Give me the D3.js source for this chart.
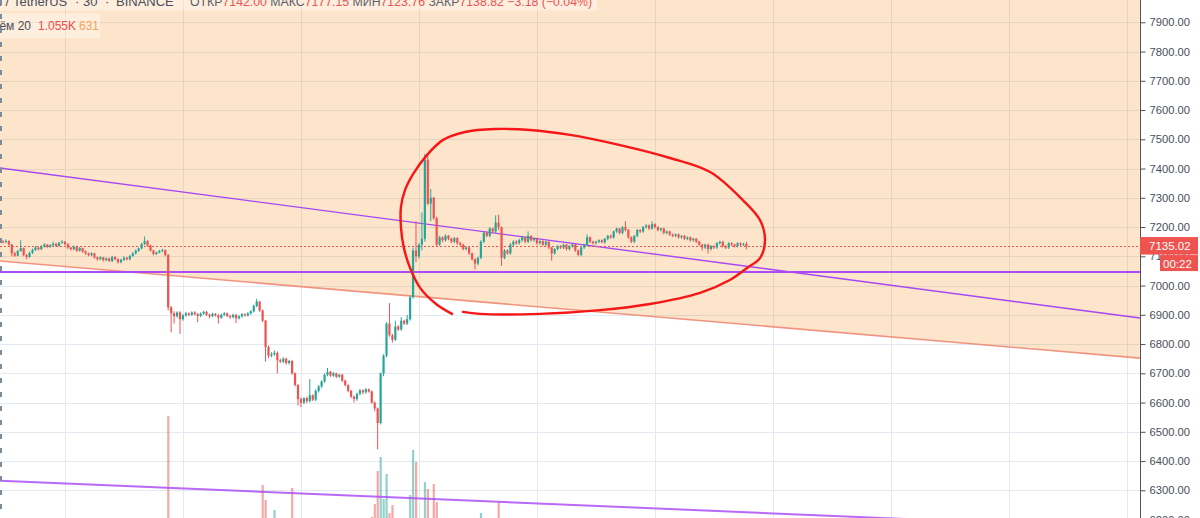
<!DOCTYPE html>
<html><head><meta charset="utf-8">
<script src="https://cdn.jsdelivr.net/npm/d3@7"></script>
<style>html,body{margin:0;padding:0;background:#fff;overflow:hidden}svg{display:block}</style>
</head><body><svg id="c" width="1200" height="518"></svg>
<script>
// ---------- DATA ----------
const opens = [
7150,7148,7152,7140,7110,7102,7118,7128,7104,7098,
7112,7122,7130,7124,7134,7140,7132,7138,7143,7135,
7146,7150,7141,7130,7124,7133,7119,7128,7116,7110,
7104,7110,7096,7090,7097,7087,7093,7084,7098,7090,
7080,7088,7095,7090,7101,7110,7119,7127,7142,7152,
7137,7120,7108,7113,7118,7121,7104,6925,6905,6895,
6908,6885,6898,6905,6900,6908,6902,6896,6904,6910,
6900,6895,6903,6898,6890,6900,6905,6896,6892,6900,
6888,6895,6902,6898,6905,6912,6930,6945,6915,6880,
6790,6760,6765,6770,6745,6740,6750,6735,6742,6700,
6660,6612,6600,6615,6605,6625,6610,6640,6655,6672,
6695,6705,6692,6700,6688,6695,6675,6660,6640,6620,
6612,6630,6642,6635,6645,6638,6600,6580,6530,6700,
6760,6870,6830,6815,6860,6850,6880,6870,6885,6960,
7120,7100,7140,7160,7430,7280,7300,7230,7140,7165,
7155,7170,7160,7150,7162,7145,7140,7125,7130,7110,
7090,7075,7095,7150,7180,7170,7195,7185,7215,7200,
7095,7120,7110,7140,7150,7145,7155,7165,7150,7170,
7155,7160,7145,7152,7140,7150,7130,7110,7125,7135,
7130,7140,7125,7135,7140,7120,7105,7130,7140,7165,
7150,7145,7150,7155,7148,7160,7170,7165,7185,7195,
7180,7200,7190,7165,7150,7170,7190,7185,7200,7205,
7195,7210,7200,7190,7195,7180,7185,7175,7170,7175,
7165,7170,7160,7165,7155,7160,7150,7140,7130,7140,
7125,7135,7130,7145,7150,7135,7130,7145,7140,7135,
7145,7140,7142];
const highs = [
7156,7158,7155,7142,7115,7122,7155,7130,7108,7116,
7126,7135,7133,7138,7145,7142,7142,7150,7146,7150,
7155,7152,7145,7132,7137,7136,7132,7130,7120,7113,
7114,7112,7100,7100,7098,7096,7095,7102,7100,7093,
7092,7100,7098,7105,7114,7123,7130,7146,7168,7155,
7140,7122,7116,7122,7126,7124,7108,6930,6912,6912,
6912,6902,6910,6908,6912,6912,6906,6908,6914,6914,
6904,6907,6906,6902,6904,6909,6908,6900,6904,6903,
6899,6906,6905,6909,6916,6935,6955,6948,6918,6882,
6795,6772,6778,6775,6750,6755,6753,6746,6745,6703,
6663,6618,6618,6620,6680,6628,6645,6660,6676,6700,
6718,6708,6704,6702,6698,6698,6678,6662,6643,6624,
6634,6646,6645,6650,6648,6641,6603,6583,6702,6765,
6875,6940,6835,6880,6865,6892,6883,6900,6965,7130,
7220,7145,7250,7450,7445,7330,7303,7235,7170,7168,
7175,7173,7163,7166,7165,7150,7143,7135,7133,7113,
7093,7098,7155,7185,7185,7200,7198,7240,7242,7202,
7125,7124,7145,7155,7155,7160,7170,7168,7185,7172,
7163,7163,7155,7155,7153,7152,7133,7128,7138,7138,
7143,7142,7138,7143,7142,7123,7133,7143,7175,7168,
7153,7153,7158,7158,7163,7173,7174,7188,7198,7197,
7203,7220,7193,7168,7173,7193,7193,7204,7210,7209,
7220,7213,7203,7198,7198,7188,7188,7178,7178,7178,
7172,7173,7168,7168,7163,7163,7153,7143,7143,7143,
7138,7138,7148,7153,7153,7138,7148,7148,7143,7148,
7148,7146,7150];
const lows = [
7144,7145,7136,7100,7098,7100,7116,7100,7090,7095,
7108,7118,7120,7121,7130,7128,7129,7135,7132,7133,
7143,7138,7125,7120,7120,7115,7116,7112,7105,7100,
7100,7092,7085,7087,7082,7083,7080,7080,7086,7075,
7076,7084,7086,7086,7098,7106,7115,7124,7138,7133,
7116,7103,7104,7110,7114,7100,6915,6840,6870,6890,
6835,6880,6894,6895,6896,6898,6875,6892,6900,6896,
6888,6892,6894,6870,6886,6896,6892,6886,6888,6872,
6884,6890,6894,6894,6900,6908,6926,6910,6875,6740,
6752,6755,6760,6700,6735,6735,6730,6730,6695,6655,
6590,6585,6595,6598,6600,6605,6605,6635,6650,6668,
6690,6688,6688,6684,6685,6670,6655,6635,6615,6600,
6606,6625,6628,6630,6634,6596,6570,6440,6525,6690,
6755,6825,6805,6810,6845,6845,6865,6865,6880,6955,
7080,7092,7120,7150,7275,7220,7225,7135,7135,7148,
7150,7155,7145,7145,7140,7135,7120,7120,7105,7085,
7055,7070,7090,7145,7165,7165,7180,7180,7190,7068,
7090,7105,7105,7135,7140,7140,7150,7145,7145,7150,
7150,7140,7140,7135,7135,7125,7085,7105,7120,7125,
7125,7120,7120,7130,7115,7100,7100,7125,7135,7145,
7140,7140,7145,7145,7143,7155,7160,7160,7180,7175,
7175,7185,7160,7145,7145,7165,7180,7180,7195,7190,
7190,7195,7185,7185,7175,7175,7170,7165,7165,7160,
7160,7155,7155,7150,7150,7145,7135,7120,7125,7110,
7120,7125,7125,7140,7130,7125,7125,7135,7130,7130,
7135,7136,7124];
const closes = [
7148,7152,7140,7110,7102,7118,7128,7104,7098,7112,
7122,7130,7124,7134,7140,7132,7138,7143,7135,7146,
7150,7141,7130,7124,7133,7119,7128,7116,7110,7104,
7110,7096,7090,7097,7087,7093,7084,7098,7090,7080,
7088,7095,7090,7101,7110,7119,7127,7142,7152,7137,
7120,7108,7113,7118,7121,7104,6925,6905,6895,6908,
6885,6898,6905,6900,6908,6902,6896,6904,6910,6900,
6895,6903,6898,6890,6900,6905,6896,6892,6900,6888,
6895,6902,6898,6905,6912,6930,6945,6915,6880,6790,
6760,6765,6770,6745,6740,6750,6735,6742,6700,6660,
6612,6600,6615,6605,6625,6610,6640,6655,6672,6695,
6705,6692,6700,6688,6695,6675,6660,6640,6620,6612,
6630,6642,6635,6645,6638,6600,6580,6530,6700,6760,
6870,6830,6815,6860,6850,6880,6870,6885,6960,7120,
7100,7140,7160,7430,7280,7300,7230,7140,7165,7155,
7170,7160,7150,7162,7145,7140,7125,7130,7110,7090,
7075,7095,7150,7180,7170,7195,7185,7215,7200,7095,
7120,7110,7140,7150,7145,7155,7165,7150,7170,7155,
7160,7145,7152,7140,7150,7130,7110,7125,7135,7130,
7140,7125,7135,7140,7120,7105,7130,7140,7165,7150,
7145,7150,7155,7148,7160,7170,7165,7185,7195,7180,
7200,7190,7165,7150,7170,7190,7185,7200,7205,7195,
7210,7200,7190,7195,7180,7185,7175,7170,7175,7165,
7170,7160,7165,7155,7160,7150,7140,7130,7140,7125,
7135,7130,7145,7150,7135,7130,7145,7140,7135,7145,
7140,7142,7135];
const volumes = [
820,640,910,1250,760,580,690,720,530,610,
480,520,440,560,610,430,380,520,460,700,
650,540,610,480,390,560,440,620,700,580,
520,760,890,610,700,540,820,650,600,780,
560,430,500,620,710,680,760,1050,1320,900,
880,720,560,610,540,980,4636,1900,1200,900,
1100,760,540,480,420,510,560,380,440,520,
470,390,460,620,430,380,450,400,520,610,
480,520,440,560,700,1150,1600,1400,3068,2727,
1800,1300,2500,1200,1500,900,1000,800,3000,2100,
1900,1500,1100,900,1300,850,1400,1000,950,1200,
1100,800,700,650,600,900,1100,1300,1200,1000,
1100,900,800,700,850,2340,2636,3386,3705,2750,
3318,2432,2614,1900,1500,1600,1200,1500,2841,3864,
3591,2100,2200,3136,2977,2000,3091,2682,1800,1600,
1500,1200,1100,1000,1300,900,1100,1400,1200,1500,
1700,1400,2432,1900,1500,1200,1300,2000,2682,2200,
1500,1200,1100,1000,900,800,850,900,1000,800,
700,650,600,700,650,900,1200,800,700,650,
600,700,650,600,800,1000,900,700,1100,900,
800,700,650,700,600,800,900,750,1000,800,
750,900,1000,800,700,850,700,650,600,700,
650,600,550,600,650,550,500,600,550,500,
450,500,550,480,450,500,600,550,500,650,
600,500,450,500,550,480,500,450,400,420,
380,350,300];
const priceTicks = d3.range(6200, 7901, 100);
const timeGridIdx = [21, 61, 101, 141, 181, 221, 261, 301, 341, 381];
// drawings: [barIndex, price]
const channelLine = [[-1.02, 7084], [385.4, 6752]];
const trendLine = [[-1.02, 7402], [385.4, 6889]];
const lowerTrend = [[-1.02, 6333], [385.4, 6168]];
const levelPrice = 7046;
const lastPrice = 7135.02;
const countdown = "00:22";
const circlePts = [[152.2,6903],[146.8,6937],[141.4,6992],[138.0,7060],[135.9,7128],[134.9,7200],[134.9,7269],[136.3,7327],[139.0,7381],[143.7,7446],[149.2,7498],[156.6,7525],[166.8,7535],[178.6,7532],[192.2,7515],[209.2,7480],[226.1,7436],[239.7,7388],[250.8,7292],[256.6,7224],[258.3,7156],[256.6,7094],[252.2,7060],[246.4,7019],[236.3,6975],[219.3,6937],[202.4,6916],[182.0,6903],[161.7,6903],[155.9,6910]];
const titleParts = ["Bitcoin /", "TetherUS", "·", "30", "·", "BINANCE"];
const ohlcLabels = ["ОТКР", "МАКС", "МИН", "ЗАКР"];
const ohlcValues = ["7142.00", "7177.15", "7123.76", "7138.82"];
const changeText = "−3.18 (−0.04%)";
const volLegend = ["Объём 20", "1.055K", "631"];

// ---------- CHART ----------
const W = 1200, H = 518, AX = 1140;
const FONT = "'Liberation Sans', Arial, sans-serif";
const UP = "#26a69a", DOWN = "#ef5350";
const svg = d3.select("#c");
const x = d3.scaleLinear().domain([0, 100]).range([3, 298]);
const y = d3.scaleLinear().domain([6200, 7900]).range([519.55, 22.3]);
const vy = d3.scaleLinear().domain([0, 5000]).range([620, 400]);

svg.append("rect").attr("width", W).attr("height", H).attr("fill", "#fff");
svg.append("defs").append("clipPath").attr("id", "plot")
  .append("rect").attr("x", 0).attr("y", 0).attr("width", AX).attr("height", H);
const g = svg.append("g").attr("clip-path", "url(#plot)");

// grid
g.selectAll(".hg").data(priceTicks).join("line")
  .attr("x1", 0).attr("x2", AX).attr("y1", d => Math.round(y(d)) + 0.5).attr("y2", d => Math.round(y(d)) + 0.5)
  .attr("stroke", "#e3e9f0").attr("stroke-width", 1);
g.selectAll(".vg").data(timeGridIdx).join("line")
  .attr("x1", d => Math.round(x(d)) + 0.5).attr("x2", d => Math.round(x(d)) + 0.5).attr("y1", 0).attr("y2", H)
  .attr("stroke", "#e3e9f0").attr("stroke-width", 1);

// channel fill (above channel line)
const c0 = channelLine[0], c1 = channelLine[1];
g.append("path")
  .attr("d", `M${x(c0[0])},0 L${x(c1[0])},0 L${x(c1[0])},${y(c1[1])} L${x(c0[0])},${y(c0[1])} Z`)
  .attr("fill", "rgba(245,124,0,0.2)");

// legend boxes
g.append("rect").attr("x", 0).attr("y", -6).attr("width", 597).attr("height", 16.5).attr("fill", "rgba(255,255,255,0.35)");
g.append("rect").attr("x", 0).attr("y", 13.5).attr("width", 100).attr("height", 24.5).attr("fill", "rgba(255,255,255,0.35)");

// volume
const idx = d3.range(closes.length);
g.selectAll(".vol").data(idx).join("rect")
  .attr("x", i => x(i) - 1).attr("width", 2.2)
  .attr("y", i => vy(volumes[i])).attr("height", i => vy(0) - vy(volumes[i]))
  .attr("fill", i => closes[i] >= opens[i] ? "rgba(38,166,154,0.5)" : "rgba(239,83,80,0.5)");

// trend drawings
const seg = d3.line().x(d => x(d[0])).y(d => y(d[1]));
g.append("path").attr("d", seg(channelLine)).attr("stroke", "#ee8a76").attr("stroke-width", 1.6).attr("fill", "none").attr("opacity", 0.9);
g.append("path").attr("d", seg(trendLine)).attr("stroke", "#a547f2").attr("stroke-width", 1.4).attr("fill", "none");
g.append("path").attr("d", seg(lowerTrend)).attr("stroke", "#ac4ff5").attr("stroke-width", 2).attr("fill", "none").attr("opacity", 0.85);
g.append("line").attr("x1", 0).attr("x2", AX).attr("y1", y(levelPrice)).attr("y2", y(levelPrice))
  .attr("stroke", "#ad4cf6").attr("stroke-width", 2);

// last price dotted line
g.append("line").attr("x1", 0).attr("x2", AX).attr("y1", Math.round(y(lastPrice)) + 0.5).attr("y2", Math.round(y(lastPrice)) + 0.5)
  .attr("stroke", DOWN).attr("stroke-width", 1).attr("stroke-dasharray", "2,2");

// candles
const cg = g.append("g");
cg.selectAll(".wick").data(idx).join("line")
  .attr("x1", i => x(i)).attr("x2", i => x(i))
  .attr("y1", i => y(highs[i])).attr("y2", i => y(lows[i]))
  .attr("stroke", i => closes[i] >= opens[i] ? UP : DOWN).attr("stroke-width", 1);
cg.selectAll(".body").data(idx).join("rect")
  .attr("x", i => x(i) - 1.1).attr("width", 2.2)
  .attr("y", i => Math.min(y(opens[i]), y(closes[i])))
  .attr("height", i => Math.max(1, Math.abs(y(opens[i]) - y(closes[i]))))
  .attr("fill", i => closes[i] >= opens[i] ? UP : DOWN);

// hand-drawn circle
g.append("path").attr("d", d3.line().x(d => x(d[0])).y(d => y(d[1])).curve(d3.curveCatmullRom.alpha(0.5))(circlePts))
  .attr("fill", "none").attr("stroke", "#f51616").attr("stroke-width", 2.4).attr("stroke-linecap", "round");

// legend text
const titleX = [9, 13, 75, 83, 105, 116];
const tt = g.append("text").attr("font-family", FONT).attr("font-size", 13).attr("y", 5.5).attr("fill", "#4a4e59");
titleParts.forEach((p, k) => {
  tt.append("tspan").attr("x", titleX[k]).attr("text-anchor", k === 0 ? "end" : "start").text(p);
});
const oh = g.append("text").attr("font-family", FONT).attr("font-size", 12.3).attr("y", 5.5).attr("x", 190);
ohlcLabels.forEach((lab, k) => {
  oh.append("tspan").attr("fill", "#5d606b").text((k ? " " : "") + lab);
  oh.append("tspan").attr("fill", DOWN).text(ohlcValues[k]);
});
oh.append("tspan").attr("fill", DOWN).text(" " + changeText);
const vl = g.append("text").attr("font-family", FONT).attr("font-size", 12).attr("y", 29.5);
vl.append("tspan").attr("x", 31).attr("text-anchor", "end").attr("fill", "#4a4e59").text(volLegend[0]);
vl.append("tspan").attr("x", 38).attr("fill", "#f04b4b").text(volLegend[1]);
vl.append("tspan").attr("x", 79).attr("fill", "#f6a15c").text(volLegend[2]);

// left dashed border
svg.append("line").attr("x1", 1).attr("x2", 1).attr("y1", 0).attr("y2", H)
  .attr("stroke", "#7d8a99").attr("stroke-width", 2).attr("stroke-dasharray", "5,9");

// price axis
svg.append("rect").attr("x", AX).attr("y", 0).attr("width", W - AX).attr("height", H).attr("fill", "#fff");
const axis = svg.append("g").attr("transform", `translate(${AX + 0.5},0)`)
  .call(d3.axisRight(y).tickValues(priceTicks).tickFormat(d => d.toFixed(2)).tickSize(5).tickPadding(4).tickSizeOuter(0));
axis.select(".domain").attr("stroke", "#50535e").attr("stroke-width", 1).attr("d", `M0,0V${H}`);
axis.selectAll(".tick line").attr("stroke", "#50535e");
axis.selectAll(".tick text").attr("font-family", FONT).attr("font-size", 11.2).attr("fill", "#4a4e59");

// last price tag
const ly = y(lastPrice);
svg.append("rect").attr("x", AX).attr("y", ly - 9).attr("width", 58).attr("height", 17.5).attr("fill", DOWN);
svg.append("text").attr("x", AX + 9).attr("y", ly + 4).attr("font-family", FONT).attr("font-size", 11.5).attr("fill", "#fff").text(lastPrice.toFixed(2));
svg.append("rect").attr("x", 1160).attr("y", ly + 9).attr("width", 38).attr("height", 16).attr("fill", DOWN);
svg.append("text").attr("x", 1163).attr("y", ly + 21.5).attr("font-family", FONT).attr("font-size", 11.5).attr("fill", "#fff").text(countdown);
</script></body></html>
